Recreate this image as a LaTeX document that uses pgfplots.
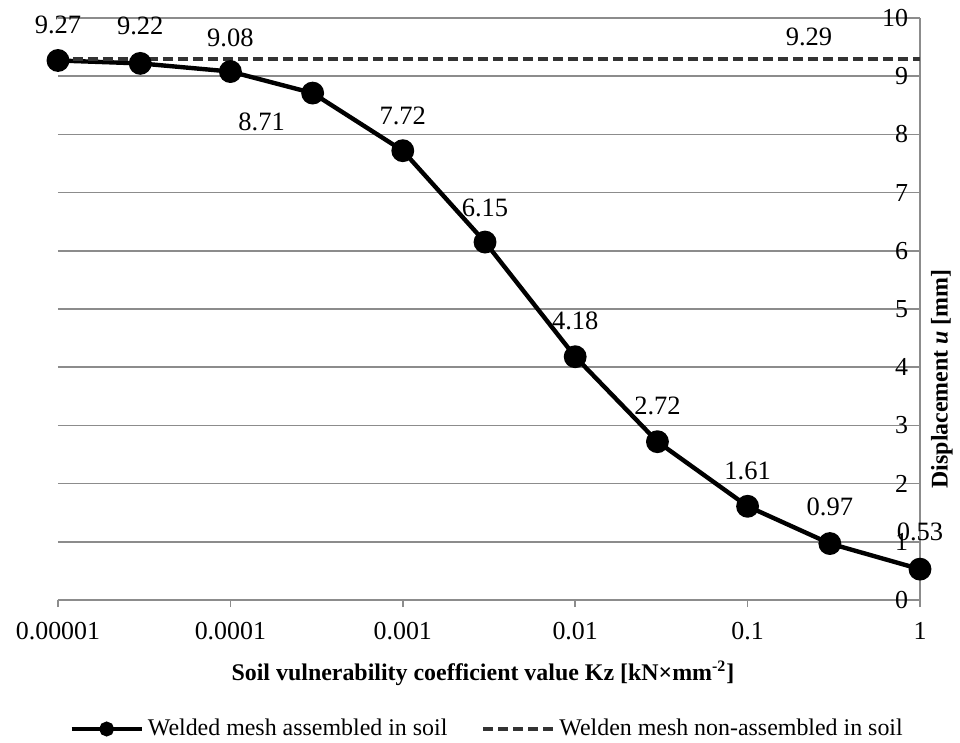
\documentclass[border=0pt]{standalone}
\usepackage{fontspec}
\setmainfont{Liberation Serif}
\usepackage{pgfplots}
\pgfplotsset{compat=1.18}

\definecolor{gridgray}{HTML}{8C8C8C}
\definecolor{dashgray}{HTML}{333333}

% displacement u [mm] vs soil coefficient Kz
\pgfplotstableread{
kz      u
1e-5    9.27
3e-5    9.22
1e-4    9.08
3e-4    8.71
1e-3    7.72
3e-3    6.15
1e-2    4.18
3e-2    2.72
1e-1    1.61
3e-1    0.97
1       0.53
}\welded

\begin{document}
\begin{tikzpicture}
\begin{axis}[
  scale only axis,
  width=431bp, height=291bp,
  xmode=log,
  xmin=1e-5, xmax=1,
  ymin=0, ymax=10,
  clip=false,
  axis x line*=bottom,
  axis y line*=right,
  axis line style={gridgray, line width=0.75bp},
  xtick={1e-5,1e-4,1e-3,1e-2,1e-1,1},
  xticklabels={0.00001,0.0001,0.001,0.01,0.1,1},
  xminorticks=false,
  xtick style={gridgray, line width=0.75bp},
  major tick length=3.5bp,
  tick align=outside,
  ytick={0,1,...,10},
  ytick style={draw=none},
  ymajorgrids,
  grid style={gridgray, line width=0.75bp},
  ticklabel style={font=\fontsize{13}{15}\selectfont},
  xticklabel style={yshift=-4bp},
  yticklabel style={anchor=east, xshift=-6bp},
  /pgf/number format/assume math mode=true,
  xlabel={Soil vulnerability coefficient value Kz [kN×mm\textsuperscript{-2}]},
  xlabel style={font=\bfseries\fontsize{12}{14}\selectfont, at={(rel axis cs:0.493,0)}, anchor=center, yshift=-36.5bp},
  ylabel={Displacement \textit{u} [mm]},
  ylabel style={font=\bfseries\fontsize{12}{14}\selectfont, at={(rel axis cs:1.0255,0.38)}, anchor=center},
  legend style={at={(rel axis cs:0.499,0)}, anchor=center, yshift=-64.5bp, draw=none,
    legend columns=2, font=\fontsize{12}{14}\selectfont,
    /tikz/every even column/.append style={column sep=15bp}},
  legend image code/.code={%
    \draw[mark repeat=2,mark phase=2,#1,mark size=2.6bp] plot coordinates {(0bp,0bp)(17.5bp,0bp)(35bp,0bp)};
  },
]
\addplot[black, line width=2.2bp, mark=*, mark size=4.6bp, mark options={solid, fill=black}] table[x=kz, y=u] {\welded};
\addlegendentry{Welded mesh assembled in soil}
\addplot[dashgray, line width=2bp, dash pattern=on 5bp off 2.5bp] coordinates {(1e-5,9.29) (1,9.29)};
\addlegendentry{Welden mesh non-assembled in soil}

\coordinate (O) at (rel axis cs:0,0);
\begin{scope}[every node/.style={font=\fontsize{13.3}{15}\selectfont, inner sep=0pt}]
\node[yshift=18bp] at (axis cs:1e-5,9.27) {9.27};
\node[yshift=18.5bp] at (axis cs:3e-5,9.22) {9.22};
\node[yshift=17bp] at (axis cs:1e-4,9.08) {9.08};
\node[xshift=-25.5bp, yshift=-14.5bp] at (axis cs:3e-4,8.71) {8.71};
\node[yshift=17.5bp] at (axis cs:1e-3,7.72) {7.72};
\node[yshift=17bp] at (axis cs:3e-3,6.15) {6.15};
\node[yshift=18bp] at (axis cs:1e-2,4.18) {4.18};
\node[yshift=18bp] at (axis cs:3e-2,2.72) {2.72};
\node[yshift=17.5bp] at (axis cs:1e-1,1.61) {1.61};
\node[yshift=18.5bp] at (axis cs:3e-1,0.97) {0.97};
\node[yshift=18.5bp] at (axis cs:1,0.53) {0.53};
\node[yshift=11bp] at (axis cs:0.227,9.29) {9.29};
\end{scope}
\end{axis}
\pgfresetboundingbox
\useasboundingbox (O) ++(-29bp,-71.5bp) rectangle ++(480bp,371.5bp);
\end{tikzpicture}
\end{document}
